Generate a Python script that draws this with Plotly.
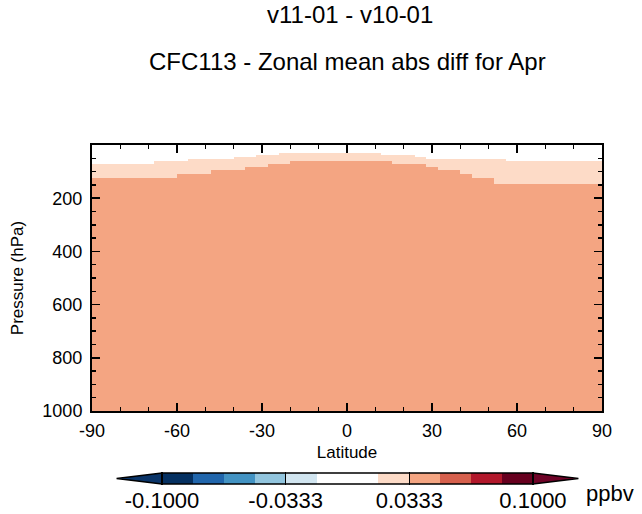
import plotly.graph_objects as go
from bisect import bisect_right

# ---------------- data ----------------
title_top = "v11-01 - v10-01"
title_sub = "CFC113 - Zonal mean abs diff for Apr"

# latitude bands (deg) and the pressure (hPa) where |diff| first reaches 0.0167 ppbv
light_lat_edges = [-90, -68, -56, -40, -32, -24, 12, 24, 28, 40, 56, 90]
light_top_hpa = [70, 59, 52, 45, 38, 30, 38, 44, 51, 53, 60]
# latitude bands (deg) and the pressure (hPa) where |diff| first reaches 0.0333 ppbv
dark_lat_edges = [-90, -60, -48, -36, -28, -20, 16, 28, 32, 40, 44, 52, 90]
dark_top_hpa = [124, 109, 94, 81, 71, 60, 70, 81, 94, 109, 125, 147]

# representative abs-diff values (ppbv) of the three regions
val_above = 0.005
val_mid = 0.025
val_low = 0.040

p_top, p_bottom = 0, 1000

# colour bar levels
cb_edges = [-0.1, -0.08333, -0.06667, -0.05, -0.03333, -0.01667, 0.0,
            0.01667, 0.03333, 0.05, 0.06667, 0.08333, 0.1]
cb_colors = ["#053061", "#2166AC", "#4393C3", "#92C5DE", "#D1E5F0", "#FFFFFF",
             "#FFFFFF", "#FDDBC7", "#F4A582", "#D6604D", "#B2182B", "#67001F"]
cb_under = "#0A3468"
cb_over = "#6E0327"
cb_tickvals = [-0.1, -0.03333, 0.03333, 0.1]
cb_ticktext = ["-0.1000", "-0.0333", "0.0333", "0.1000"]
cb_unit = "ppbv"

x_tickvals = [-90, -60, -30, 0, 30, 60, 90]
x_ticktext = ["-90", "-60", "-30", "0", "30", "60", "90"]
y_tickvals = [200, 400, 600, 800, 1000]

# ---------------- build grid ----------------
x_edges = sorted(set(light_lat_edges + dark_lat_edges))
y_edges = sorted(set([p_top] + light_top_hpa + dark_top_hpa + [p_bottom]))

z = []
for j in range(len(y_edges) - 1):
    pc = 0.5 * (y_edges[j] + y_edges[j + 1])
    row = []
    for i in range(len(x_edges) - 1):
        xc = 0.5 * (x_edges[i] + x_edges[i + 1])
        lt = light_top_hpa[bisect_right(light_lat_edges, xc) - 1]
        dt = dark_top_hpa[bisect_right(dark_lat_edges, xc) - 1]
        if pc < lt:
            row.append(val_above)
        elif pc < dt:
            row.append(val_mid)
        else:
            row.append(val_low)
    z.append(row)

n = len(cb_colors)
colorscale = []
for k, c in enumerate(cb_colors):
    colorscale.append([k / n, c])
    colorscale.append([(k + 1) / n, c])

cb_centers = [0.5 * (cb_edges[k] + cb_edges[k + 1]) for k in range(n)]

FONT = "Liberation Sans, Arial, Helvetica, sans-serif"

fig = go.Figure()
fig.add_trace(go.Heatmap(x=x_edges, y=y_edges, z=z, colorscale=colorscale,
                         zmin=cb_edges[0], zmax=cb_edges[-1], showscale=False,
                         hoverinfo="skip"))

# colour bar as its own small subplot
fig.add_trace(go.Heatmap(x=cb_edges, y=[0, 1], z=[cb_centers], colorscale=colorscale,
                         zmin=cb_edges[0], zmax=cb_edges[-1], showscale=False,
                         xaxis="x2", yaxis="y2", hoverinfo="skip"))
ext = 0.1245
fig.add_trace(go.Scatter(x=[cb_edges[0], -ext, cb_edges[0], cb_edges[0]], y=[0, 0.5, 1, 0],
                         fill="toself", fillcolor=cb_under, mode="lines",
                         line=dict(width=0, color=cb_under), xaxis="x2", yaxis="y2",
                         showlegend=False, hoverinfo="skip"))
fig.add_trace(go.Scatter(x=[cb_edges[-1], ext, cb_edges[-1], cb_edges[-1]], y=[0, 0.5, 1, 0],
                         fill="toself", fillcolor=cb_over, mode="lines",
                         line=dict(width=0, color=cb_over), xaxis="x2", yaxis="y2",
                         showlegend=False, hoverinfo="skip"))
fig.add_trace(go.Scatter(x=[cb_edges[0], -ext, cb_edges[0], cb_edges[-1], ext, cb_edges[-1], cb_edges[0]],
                         y=[1, 0.5, 0, 0, 0.5, 1, 1], mode="lines",
                         line=dict(width=1.5, color="black"), xaxis="x2", yaxis="y2",
                         showlegend=False, hoverinfo="skip"))

fig.update_layout(
    width=642, height=514,
    margin=dict(l=92, r=40, t=145, b=10, autoexpand=False),
    paper_bgcolor="white", plot_bgcolor="white",
    font=dict(family=FONT, color="black"),
    showlegend=False,
    hovermode=False,
    xaxis=dict(range=[-90, 90], domain=[0, 1], anchor="y", automargin=False,
               tickvals=x_tickvals, ticktext=x_ticktext, ticks="inside", ticklen=8,
               tickwidth=1.5, tickcolor="black",
               minor=dict(dtick=10, ticks="inside", ticklen=4, tickwidth=1.5,
                          tickcolor="black"),
               showline=True, linewidth=2, linecolor="black", mirror="allticks",
               showgrid=False, zeroline=False, tickfont=dict(size=18),
               ticklabelstandoff=2,
               title=dict(text="Latitude", font=dict(size=17), standoff=6)),
    yaxis=dict(range=[p_bottom, p_top], domain=[0.25905, 1], anchor="x", automargin=False,
               tickvals=y_tickvals, ticks="inside", ticklen=8, tickwidth=1.5,
               tickcolor="black",
               minor=dict(dtick=50, ticks="inside", ticklen=4, tickwidth=1.5,
                          tickcolor="black"),
               showline=True, linewidth=2, linecolor="black", mirror="allticks",
               showgrid=False, zeroline=False, tickfont=dict(size=18),
               ticklabelstandoff=4,
               title=dict(text="Pressure (hPa)", font=dict(size=17), standoff=14)),
    xaxis2=dict(range=[-0.1259, 0.1259], domain=[0.04314, 0.95882], anchor="y2",
                automargin=False,
                tickvals=cb_tickvals, ticktext=cb_ticktext, ticks="inside",
                ticklen=13, tickwidth=1.5, tickcolor="black",
                showline=False, showgrid=False, zeroline=False,
                tickfont=dict(size=22)),
    yaxis2=dict(range=[-0.0909, 1.0909], domain=[0.05292, 0.08914], anchor="x2",
                visible=False, fixedrange=True, automargin=False),
    annotations=[
        dict(text=title_top, xref="paper", yref="paper", x=0.505, y=1.3644,
             xanchor="center", yanchor="middle", showarrow=False, font=dict(size=24)),
        dict(text=title_sub, xref="paper", yref="paper", x=0.501, y=1.2334,
             xanchor="center", yanchor="middle", showarrow=False, font=dict(size=24)),
        dict(text=cb_unit, xref="paper", yref="paper", x=1.0157, y=0.028,
             xanchor="center", yanchor="middle", showarrow=False, font=dict(size=22)),
    ],
)

fig.write_html("out.html", config={"displayModeBar": False, "staticPlot": True},
               post_script="document.body.style.margin='0px';document.body.style.overflow='hidden';")
